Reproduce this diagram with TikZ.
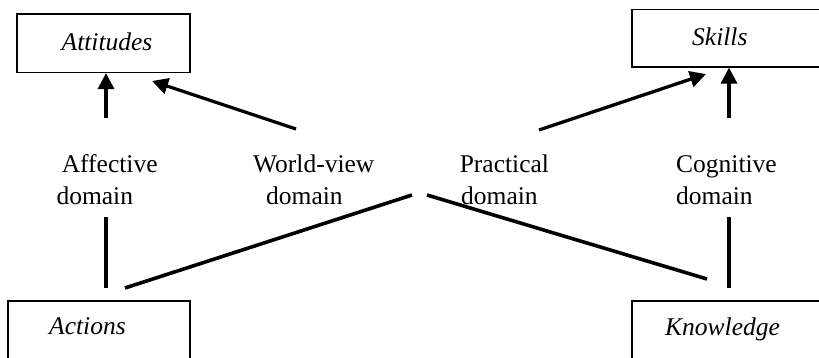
\documentclass[tikz,border=0pt]{standalone}
\usepackage{fontspec}
\setmainfont{Liberation Serif}
\usetikzlibrary{arrows.meta}
\begin{document}
\begin{tikzpicture}[x=1pt,y=-1pt,
  box/.style={draw, line width=1.2pt, inner sep=0pt},
  txt/.style={anchor=base west, inner sep=0pt, font=\fontsize{25.5}{30}\selectfont},
  itxt/.style={txt, font=\fontsize{25.5}{30}\selectfont\itshape},
  arr/.style={line width=3.3pt, -{Triangle[width=16pt,length=16pt]}},
  link/.style={line width=3.6pt}]
\useasboundingbox (0,0) rectangle (819,357);
\clip (0,0) rectangle (819,357);
% boxes
\node[box, minimum width=173pt, minimum height=58.5pt] (att) at (103.5,43.25) {};
\node[box, minimum width=268pt, minimum height=57.5pt] (skl) at (766,38.25) {};
\node[box, minimum width=182pt, minimum height=100pt] (act) at (99,351) {};
\node[box, minimum width=268pt, minimum height=100pt] (kno) at (766,351) {};
% box texts
\node[itxt] (attT) at (61.5,50) {Attitudes};
\node[itxt] (sklT) at (692,45) {Skills};
\node[itxt] (actT) at (49,334) {Actions};
\node[itxt] (knoT) at (665,335) {Knowledge};
% domain labels
\node[txt] (affA) at (61.6,172) {Affective};
\node[txt] (affB) at (56.3,204) {domain};
\node[txt] (wvA) at (253,172) {World-view};
\node[txt] (wvB) at (266,204) {domain};
\node[txt] (prA) at (459.6,172) {Practical};
\node[txt] (prB) at (461,204) {domain};
\node[txt] (coA) at (676,172) {Cognitive};
\node[txt] (coB) at (676,204) {domain};
% arrow ends
\coordinate (affUp) at (106,118);
\coordinate (wvUp) at (296,129);
\coordinate (wvTip) at (152,81);
\coordinate (prUp) at (539,130);
\coordinate (prTip) at (706,74);
\coordinate (coUp) at (729,118);
% lower ends
\coordinate (affLo) at (106,217);
\coordinate (actL) at (106,288);
\coordinate (actD) at (125,288);
\coordinate (prLo) at (412,195);
\coordinate (wvLo) at (427,195);
\coordinate (knoD) at (707,279);
\coordinate (coLo) at (729,217);
\coordinate (knoL) at (729,288);
% arrows
\draw[arr] (affUp) -- (affUp |- att.south);
\draw[arr] (wvUp) -- (wvTip);
\draw[arr] (prUp) -- (prTip);
\draw[arr] (coUp) -- (coUp |- skl.south);
% lines
\draw[link] (affLo) -- (actL);
\draw[link] (actD) -- (prLo);
\draw[link] (wvLo) -- (knoD);
\draw[link] (coLo) -- (knoL);
\end{tikzpicture}
\end{document}
